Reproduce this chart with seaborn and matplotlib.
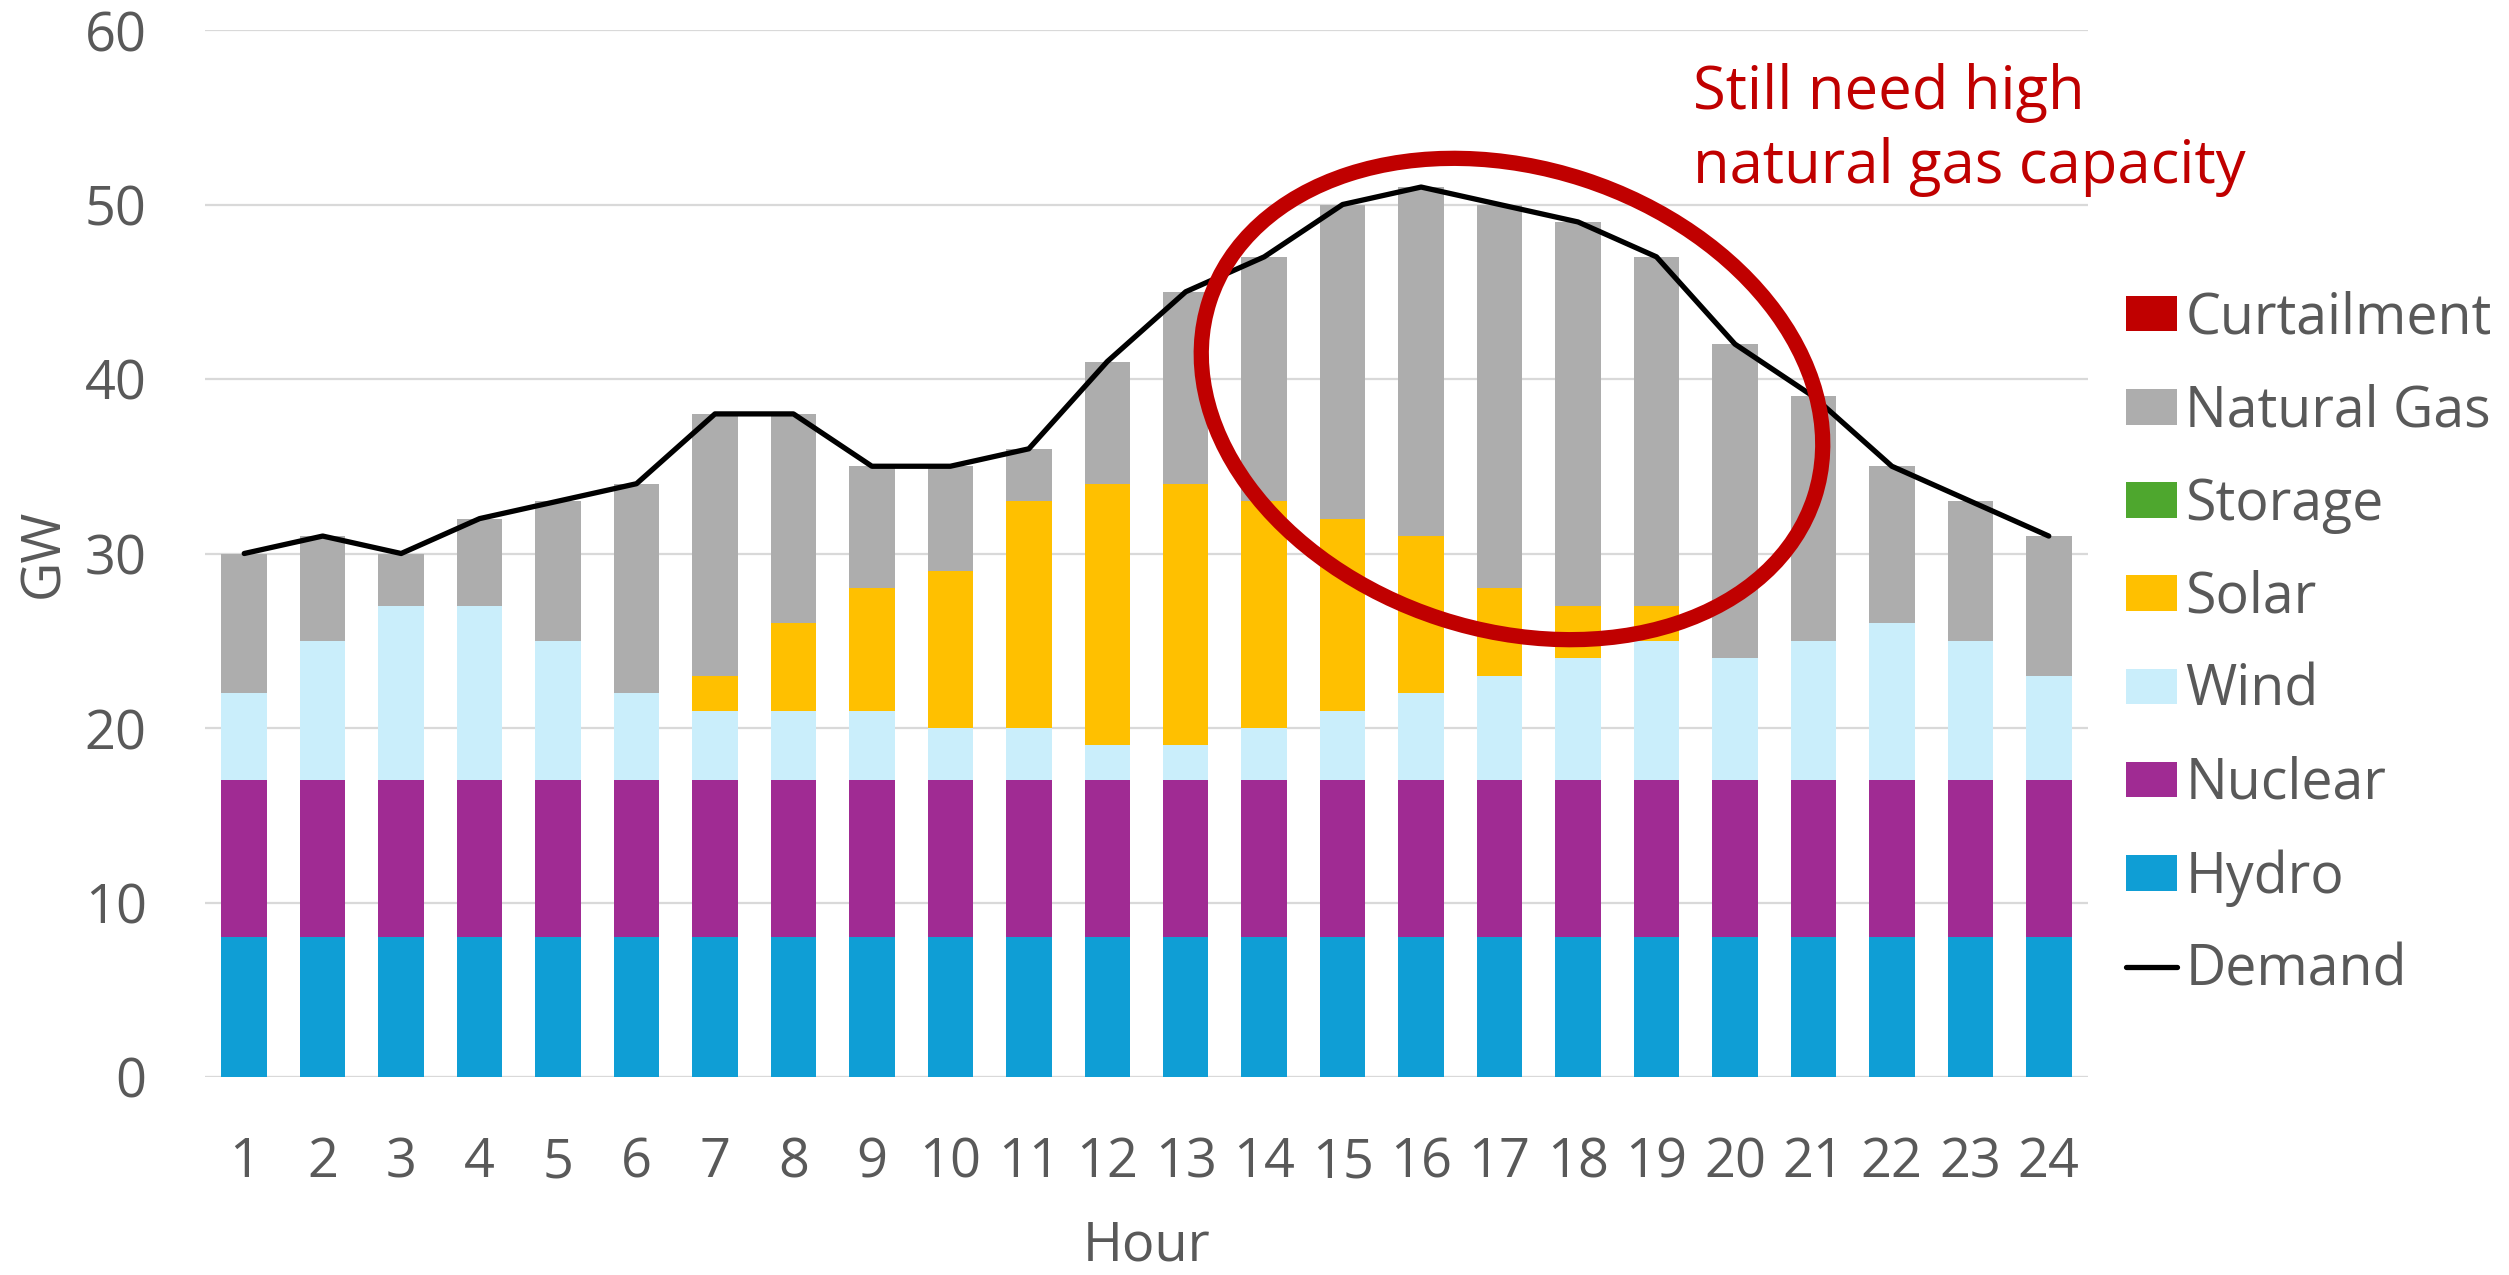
import numpy as np
import matplotlib
matplotlib.use("Agg")
import matplotlib.pyplot as plt
from matplotlib.patches import Ellipse
import seaborn as sns

hours = list(range(1, 25))
hydro = [8] * 24
nuclear = [9] * 24
wind = [5, 8, 10, 10, 8, 5, 4, 4, 4, 3, 3, 2, 2, 3, 4, 5, 6, 7, 8, 7, 8, 9, 8, 6]
solar = [0, 0, 0, 0, 0, 0, 2, 5, 7, 9, 13, 15, 15, 13, 11, 9, 5, 3, 2, 0, 0, 0, 0, 0]
storage = [0] * 24
total = [30, 31, 30, 32, 33, 34, 38, 38, 35, 35, 36, 41, 45, 47, 50, 51, 50, 49, 47, 42, 39, 35, 33, 31]
curtailment = [0] * 24
demand = [30, 31, 30, 32, 33, 34, 38, 38, 35, 35, 36, 41, 45, 47, 50, 51, 50, 49, 47, 42, 39, 35, 33, 31]

# natural gas fills the gap up to the bar total
base = np.array(hydro) + np.array(nuclear) + np.array(wind) + np.array(solar) + np.array(storage)
gas = list(np.array(total) - base)

series = [
    ("Hydro", hydro, "#0F9ED5"),
    ("Nuclear", nuclear, "#A02B93"),
    ("Wind", wind, "#CAEEFB"),
    ("Solar", solar, "#FFC000"),
    ("Storage", storage, "#4EA72E"),
    ("Natural Gas", gas, "#ADADAD"),
    ("Curtailment", curtailment, "#C00000"),
]

TEXT = "#595959"
GRID = "#D9D9D9"
FS = 39

sns.set_style("white")
plt.rcParams["font.family"] = ["Open Sans", "DejaVu Sans"]

fig = plt.figure(figsize=(25.09, 12.75), dpi=100)
ax = fig.add_axes([205 / 2509, 198 / 1275, (2088 - 205) / 2509, (1245 - 198) / 1275])

bottom = np.zeros(24)
for name, vals, col in series:
    sns.barplot(x=hours, y=vals, bottom=bottom, color=col, saturation=1,
                width=0.58, native_scale=True, errorbar=None, linewidth=0,
                label=name, ax=ax)
    bottom = bottom + np.array(vals)

sns.lineplot(x=hours, y=demand, color="black", lw=3.8, label="Demand", ax=ax)

ax.set_xlim(0.5, 24.5)
ax.set_ylim(0, 60)
ax.set_yticks(range(0, 61, 10))
ax.set_xticks(hours)
ax.set_xticklabels([str(h) for h in hours])
ax.yaxis.grid(True, color=GRID, lw=1.6)
ax.set_axisbelow(True)
sns.despine(ax=ax, left=True, bottom=True)
ax.axhline(0, color=GRID, lw=2.2, zorder=0.5)
ax.tick_params(axis="both", length=0, labelsize=FS, colors=TEXT)
ax.tick_params(axis="x", pad=42)
ax.tick_params(axis="y", pad=42)
ax.set_xlabel("Hour", fontsize=FS, color=TEXT, labelpad=20)
ax.set_ylabel("GW", fontsize=FS, color=TEXT, labelpad=10)

handles, labels = ax.get_legend_handles_labels()
order = ["Curtailment", "Natural Gas", "Storage", "Solar", "Wind", "Nuclear", "Hydro", "Demand"]
hmap = dict(zip(labels, handles))
ax.legend([hmap[k] for k in order], order, loc="center left",
          bbox_to_anchor=(2126 / 2509, 1 - 645 / 1275), bbox_transform=fig.transFigure,
          frameon=False, fontsize=40, labelcolor=TEXT, handlelength=0.92,
          handleheight=0.6, handletextpad=0.15, labelspacing=0.65,
          borderpad=0, borderaxespad=0)

fig.text(1693 / 2509, 1 - 130 / 1275, "Still need high\nnatural gas capacity",
         color="#C00000", fontsize=43, va="center", ha="left", linespacing=1.3)

ring = Ellipse((15.12, 12.75 - 3.99), 6.36, 4.62, angle=-18, fill=False,
               edgecolor="#C00000", lw=11, transform=fig.dpi_scale_trans, zorder=10)
fig.add_artist(ring)

fig.savefig("out.png", dpi=100, facecolor="white")
